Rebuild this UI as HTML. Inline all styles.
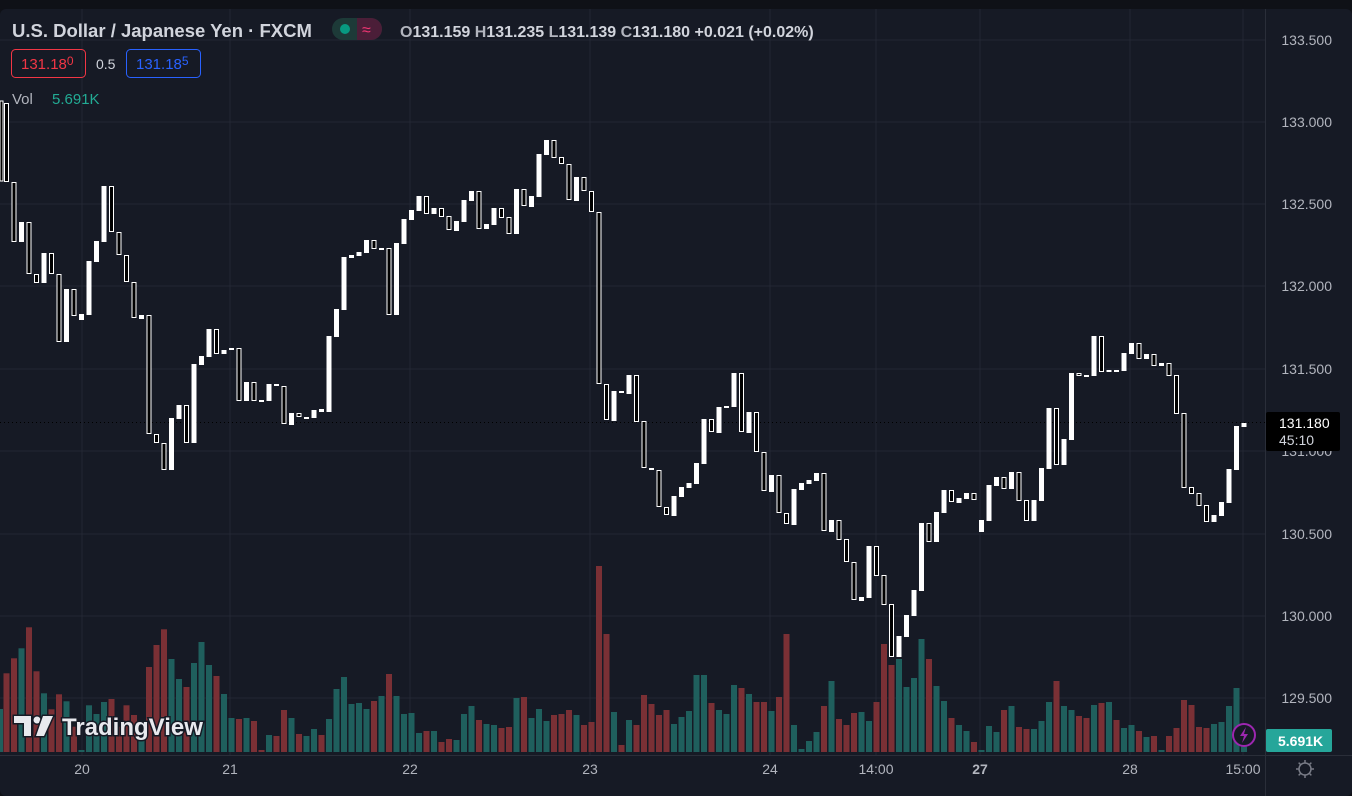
<!DOCTYPE html>
<html><head><meta charset="utf-8">
<style>
html,body{margin:0;padding:0;background:#0f1117;}
#wrap{position:relative;width:1352px;height:796px;overflow:hidden;background:#0f1117;font-family:"Liberation Sans",sans-serif;}
svg{position:absolute;left:0;top:0;}
</style></head><body><div id="wrap">
<svg id="s" width="1352" height="796" xmlns="http://www.w3.org/2000/svg"></svg>
</div>
<script>
var s=document.getElementById('s');
var h='';
h+='<rect x="0" y="9" width="1352" height="787" rx="6" fill="#161a25"/>';
[40,122,204,286,369,451,534,616,698].forEach(function(y){h+='<line x1="0" x2="1265" y1="'+y+'" y2="'+y+'" stroke="#232733" stroke-width="1"/>';});
[82,230,410,590,770,876,980,1130,1243].forEach(function(x){h+='<line x1="'+x+'" x2="'+x+'" y1="9" y2="755" stroke="#232733" stroke-width="1"/>';});
var vz="340r,295r,265t,202r,334r,400t,448r,403r,424t,500r,570t,436t,462t,426t,417r,500r,436r,465r,540t,321r,255r,208r,297t,357t,381r,309t,246t,315t,348r,402t,474t,477r,474t,483r,570r,525t,528r,450r,474t,522r,528t,507t,525r,477t,387t,351t,432t,429t,447t,423r,408t,342r,408t,462t,459t,519t,513r,513t,546r,537r,540t,462t,438t,480r,492t,495t,504r,501r,414t,411r,474t,447t,483t,465r,462r,450r,465t,495r,486r,18r,222r,456t,555r,480t,495r,405r,432r,465r,450r,492t,471t,453t,345t,345t,429r,450t,462t,375t,384r,402t,426r,426r,453t,411r,222r,495t,567t,543t,516t,438r,363t,477r,495r,459r,456t,483t,426r,252r,315r,297t,381t,354t,237t,297r,378t,423t,474r,495t,513t,546r,570t,498t,516t,450r,438t,501r,507r,507t,483t,426t,363r,438t,450t,468r,474r,435t,429r,426t,480r,504t,495t,513r,531t,528r,570t,528r,504r,420r,435r,501r,504r,492t,486t,438t,384t,560t".split(',');
vz.forEach(function(v,i){var zy=parseFloat(v);var c=v.slice(-1)=='r'?'#7a3035':'#1f5f5d';var cx=6.5+7.5*i;var top=560+zy/3;h+='<rect x="'+(cx-3)+'" y="'+top.toFixed(1)+'" width="6" height="'+(752-top).toFixed(1)+'" fill="'+c+'"/>';});
h+='<rect x="0" y="709" width="3" height="43" fill="#1f5f5d"/>';
var c=[[103,182,1],[182,242,1],[222,242,0],[222,274,1],[274,283,1],[253,283,0],[253,274,1],[274,342,1],[289,342,0],[289,316,1],[314,320,0],[261,315,0],[241,262,0],[186,242,0],[186,232,1],[232,255,1],[255,282,1],[282,318,1],[315,319,0],[315,434,1],[434,443,1],[443,470,1],[418,470,0],[405,419,0],[405,443,1],[364,443,0],[356,365,0],[329,357,0],[329,354,1],[350,354,0],[348,350,0],[348,401,1],[382,401,0],[382,401,1],[400,402,0],[384,401,0],[384,386,1],[386,424,1],[413,425,0],[413,417,1],[417,418,0],[410,418,0],[409,412,0],[336,412,0],[309,337,0],[257,310,0],[255,258,0],[252,256,0],[240,253,0],[240,249,1],[248,250,0],[248,315,1],[243,315,0],[219,244,0],[210,220,0],[196,211,0],[196,214,1],[208,214,0],[208,217,1],[216,230,1],[221,231,0],[200,222,0],[191,201,0],[191,229,1],[224,229,0],[208,225,0],[208,218,1],[217,234,1],[189,234,0],[189,206,1],[196,207,0],[154,197,0],[140,155,0],[140,158,1],[157,164,1],[164,200,1],[177,201,0],[177,191,1],[191,212,1],[212,384,1],[384,420,1],[391,421,0],[391,393,1],[375,394,0],[375,422,1],[421,468,1],[468,470,1],[470,507,1],[507,515,1],[496,516,0],[487,497,0],[483,488,0],[463,484,0],[419,464,0],[419,432,1],[407,433,0],[406,408,0],[373,407,0],[373,432,1],[412,433,0],[412,452,1],[452,491,1],[475,492,0],[475,513,1],[513,524,1],[489,525,0],[483,490,0],[480,484,0],[473,481,0],[473,531,1],[520,532,0],[520,540,1],[539,562,1],[562,600,1],[597,601,0],[546,598,0],[546,576,1],[575,605,1],[604,657,1],[636,657,0],[615,637,0],[590,616,0],[523,591,0],[523,542,1],[512,542,0],[490,513,0],[490,502,1],[498,503,0],[493,499,0],[493,500,1],[520,532,0],[485,521,0],[477,486,0],[477,489,1],[472,489,0],[472,501,1],[500,521,1],[500,521,0],[468,501,0],[408,469,0],[408,465,1],[439,465,0],[373,440,0],[373,376,1],[375,376,0],[336,376,0],[336,372,1],[370,372,0],[370,371,0],[353,371,0],[343,354,0],[343,359,1],[354,359,0],[354,366,1],[363,366,0],[363,376,1],[375,414,1],[413,488,1],[487,494,1],[493,506,1],[505,522,1],[515,522,0],[502,516,0],[469,503,0],[426,470,0],[423,427,0]];
h+='<line x1="0" x2="1265" y1="422.5" y2="422.5" stroke="#000" stroke-width="1" stroke-dasharray="1,3"/>';
c.forEach(function(d,i){var cx=6.5+7.5*i;var t=d[0],b=d[1];if(b-t<2)b=t+2;
 if(d[2]){h+='<rect x="'+(cx-2)+'" y="'+(t+0.5)+'" width="4" height="'+(b-t-1)+'" fill="#000" stroke="#fff" stroke-width="1"/>';}
 else{h+='<rect x="'+(cx-2.5)+'" y="'+t+'" width="5" height="'+(b-t)+'" fill="#fff"/>';}});
h+='<rect x="0" y="101" width="3" height="80" fill="#000" stroke="#fff" stroke-width="1"/>';
h+='<line x1="1265.5" x2="1265.5" y1="9" y2="796" stroke="#2a2e39"/>';
h+='<line x1="0" x2="1352" y1="755.5" y2="755.5" stroke="#2a2e39"/>';
var pl=[["133.500",40],["133.000",122],["132.500",204],["132.000",286],["131.500",369],["131.000",451],["130.500",534],["130.000",616],["129.500",698]];
pl.forEach(function(p){h+='<text x="1332" y="'+(p[1]+5)+'" text-anchor="end" font-size="14" fill="#b2b5be">'+p[0]+'</text>';});
[["20",82],["21",230],["22",410],["23",590],["24",770],["14:00",876],["27",980],["28",1130],["15:00",1243]].forEach(function(p){h+='<text x="'+p[1]+'" y="774" text-anchor="middle" font-size="14" fill="#b2b5be"'+(p[0]=='27'?' font-weight="bold" fill="#d1d4dc"':'')+'>'+p[0]+'</text>';});
h+='<rect x="1266" y="412" width="74" height="39" rx="2" fill="#000"/>';
h+='<text x="1279" y="428" font-size="14" fill="#fff">131.180</text><text x="1279" y="445" font-size="14" fill="#d1d4dc">45:10</text>';
h+='<rect x="1266" y="729" width="66" height="23" rx="2" fill="#26a69a"/><text x="1278" y="746" font-size="14" font-weight="bold" fill="#fff">5.691K</text>';
h+='<circle cx="1305" cy="769" r="6" fill="none" stroke="#787b86" stroke-width="1.5"/>';
for(var k=0;k<8;k++){var a=k*Math.PI/4;h+='<line x1="'+(1305+6*Math.cos(a))+'" y1="'+(769+6*Math.sin(a))+'" x2="'+(1305+9*Math.cos(a))+'" y2="'+(769+9*Math.sin(a))+'" stroke="#787b86" stroke-width="1.5"/>';}
h+='<text x="12" y="37" font-size="18.5" font-weight="bold" fill="#d1d4dc">U.S. Dollar / Japanese Yen · FXCM</text>';
h+='<rect x="332" y="18" width="50" height="22" rx="11" fill="#1d3a38"/><path d="M357 18h14a11 11 0 0 1 0 22h-14z" fill="#4b1e38"/><circle cx="345" cy="29" r="5" fill="#089981"/><text x="362" y="35" font-size="16" fill="#f23674">≈</text>';
h+='<text x="400" y="37" font-size="16" font-weight="bold" fill="#d1d4dc"><tspan fill="#b2b5be">O</tspan>131.159 <tspan fill="#b2b5be">H</tspan>131.235 <tspan fill="#b2b5be">L</tspan>131.139 <tspan fill="#b2b5be">C</tspan>131.180 +0.021 (+0.02%)</text>';
h+='<rect x="11.5" y="49.5" width="74" height="28" rx="4" fill="none" stroke="#f23645"/><text x="21" y="69" font-size="15" fill="#f23645">131.18<tspan font-size="12" dy="-4">0</tspan></text>';
h+='<text x="96" y="69" font-size="14" fill="#d1d4dc">0.5</text>';
h+='<rect x="126.5" y="49.5" width="74" height="28" rx="4" fill="none" stroke="#2962ff"/><text x="136" y="69" font-size="15" fill="#2962ff">131.18<tspan font-size="12" dy="-4">5</tspan></text>';
h+='<text x="12" y="104" font-size="15" fill="#b2b5be">Vol</text><text x="52" y="104" font-size="15" fill="#22ab94">5.691K</text>';
h+='<g fill="#e8e9ee" stroke="#161a25" stroke-width="3" paint-order="stroke"><path d="M14 716h17v20h-7v-13h-10z"/><circle cx="37" cy="720" r="3.5"/><path d="M43 716h10l-9 20h-8z"/></g>';
h+='<text x="62" y="735" font-size="24" font-weight="bold" fill="#e8e9ee" stroke="#161a25" stroke-width="3" paint-order="stroke">TradingView</text>';
h+='<circle cx="1244" cy="735" r="11" fill="#161a25" stroke="#9c27b0" stroke-width="2"/><path d="M1246 727l-6 9h4l-2 7 6-9h-4z" fill="#9c27b0"/>';
s.innerHTML=h;
</script>
</body></html>
